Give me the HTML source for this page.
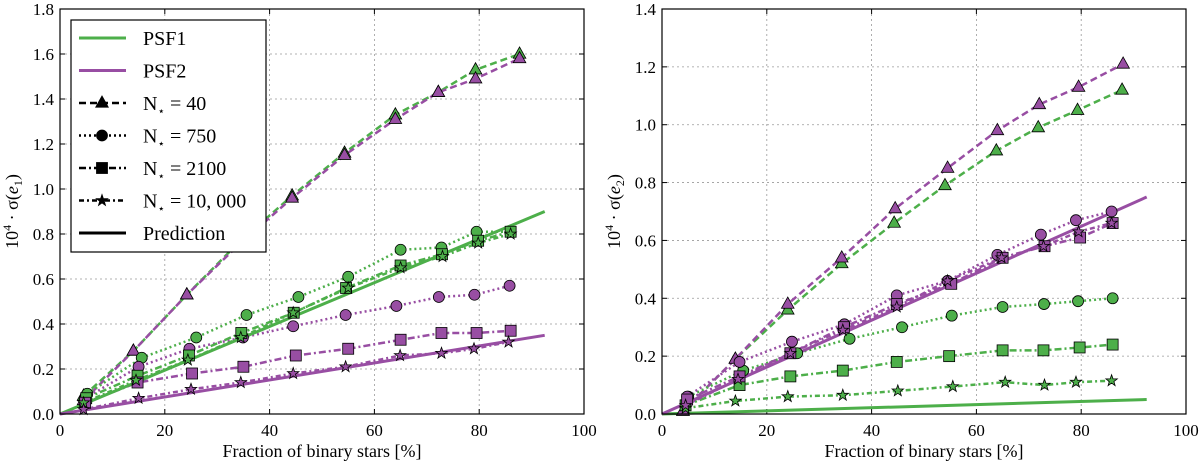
<!DOCTYPE html>
<html><head><meta charset="utf-8"><style>
body{margin:0;background:#fff;width:1200px;height:463px;overflow:hidden}
svg text{font-family:"Liberation Serif",serif;fill:#000}
</style></head><body>
<svg id="chart" width="1200" height="463" viewBox="0 0 1200 463" xmlns="http://www.w3.org/2000/svg"></svg>
<script>
// ---- data ----
const nLabels = ["40","750","2100","10000"];
// Left panel (e1)
const L_x_tri = [4.5,14,24.2,34,44.3,54.3,64,72.2,79.3,87.7];
const L_g_tri = [0.08,0.28,0.53,0.76,0.97,1.16,1.33,1.43,1.53,1.60];
const L_p_tri = [0.06,0.28,0.53,0.75,0.96,1.15,1.31,1.43,1.49,1.58];
const L_xg_circ = [5.2,15.6,26,35.6,45.5,55,65,72.8,79.5,86];
const L_g_circ = [0.09,0.25,0.34,0.44,0.52,0.61,0.73,0.74,0.81,0.81];
const L_xp_circ = [4.8,15,24.7,34.9,44.5,54.5,64.2,72.3,79.1,85.8];
const L_p_circ = [0.07,0.21,0.29,0.34,0.39,0.44,0.48,0.52,0.53,0.57];
const L_xg_sq = [5,14.8,24.6,34.6,44.6,54.6,65,72.9,79.8,86];
const L_g_sq = [0.07,0.17,0.26,0.36,0.45,0.56,0.66,0.71,0.77,0.81];
const L_xp_sq = [4.8,14.8,25.2,35,45,55,65,72.8,79.5,86];
const L_p_sq = [0.05,0.14,0.18,0.21,0.26,0.29,0.33,0.36,0.36,0.37];
const L_xg_star = [4.5,14.5,24.4,34.5,44.5,55,65,73,79.8,86];
const L_g_star = [0.05,0.15,0.24,0.34,0.45,0.56,0.65,0.70,0.76,0.80];
const L_xp_star = [4.5,15,25,34.5,44.5,54.5,64.9,72.8,79,85.6];
const L_p_star = [0.02,0.07,0.11,0.14,0.18,0.21,0.26,0.27,0.29,0.32];
const L_pred_x = [0,92.5];
const L_pred_g = [0,0.90];
const L_pred_p = [0,0.35];
const L_yticks = ["0.0","0.2","0.4","0.6","0.8","1.0","1.2","1.4","1.6","1.8"];
// Right panel (e2)
const R_xg_tri = [4,14,24,34.3,44.3,54,63.8,71.8,79.3,87.8];
const R_g_tri = [0.01,0.19,0.36,0.52,0.66,0.79,0.91,0.99,1.05,1.12];
const R_xp_tri = [4,14,24,34.3,44.5,54.5,64,72,79.5,88];
const R_p_tri = [0.01,0.19,0.38,0.54,0.71,0.85,0.98,1.07,1.13,1.21];
const R_xg_circ = [5,15.5,25.8,35.8,45.8,55.3,65,72.9,79.4,86];
const R_g_circ = [0.06,0.15,0.21,0.26,0.30,0.34,0.37,0.38,0.39,0.40];
const R_xp_circ = [4.8,14.8,24.8,34.8,44.8,54.5,64,72.3,79,85.8];
const R_p_circ = [0.06,0.18,0.25,0.31,0.41,0.46,0.55,0.62,0.67,0.70];
const R_xg_sq = [4.5,14.8,24.5,34.5,44.8,54.8,65,72.8,79.7,86];
const R_g_sq = [0.03,0.10,0.13,0.15,0.18,0.20,0.22,0.22,0.23,0.24];
const R_xp_sq = [4.8,14.8,24.5,34.7,44.8,55.2,65,73,79.8,86];
const R_p_sq = [0.05,0.13,0.21,0.30,0.38,0.45,0.54,0.58,0.61,0.66];
const R_xg_star = [4.5,14,24,34.5,45,55.5,65.5,73,79,85.8];
const R_g_star = [0.02,0.045,0.06,0.065,0.08,0.095,0.11,0.10,0.11,0.115];
const R_xp_star = [4.5,14.5,24.5,34.5,44.8,54.5,64.8,72.8,79.5,85.8];
const R_p_star = [0.03,0.12,0.21,0.29,0.37,0.46,0.54,0.58,0.63,0.66];
const R_pred_x = [0,92.5];
const R_pred_g = [0,0.05];
const R_pred_p = [0,0.75];
const R_yticks = ["0.0","0.2","0.4","0.6","0.8","1.0","1.2","1.4"];
const xticks = ["0","20","40","60","80","100"];

const G="#4daf4a", P="#984ea3";
const NS="http://www.w3.org/2000/svg";
const svg=document.getElementById('chart');
function mk(tag,attrs,parent){const e=document.createElementNS(NS,tag);for(const k in attrs)e.setAttribute(k,attrs[k]);(parent||svg).appendChild(e);return e;}
const dashes={tri:"7,4",circ:"2,3",sq:"7,3,2,3",star:"5,3,2,3",pred:""};

function marker(type,cx,cy,color,parent){
  let e;
  if(type==='tri'){const r=7;e=mk('polygon',{points:`${cx},${cy-r} ${cx-r*0.9},${cy+r*0.6} ${cx+r*0.9},${cy+r*0.6}`},parent);}
  else if(type==='circ'){e=mk('circle',{cx:cx,cy:cy,r:5.5},parent);}
  else if(type==='sq'){e=mk('rect',{x:cx-5.5,y:cy-5.5,width:11,height:11},parent);}
  else {const pts=[];for(let i=0;i<10;i++){const a=-Math.PI/2+i*Math.PI/5;const r=i%2?2.4:6;pts.push((cx+r*Math.cos(a)).toFixed(1)+','+(cy+r*Math.sin(a)).toFixed(1));}e=mk('polygon',{points:pts.join(' ')},parent);}
  e.setAttribute('fill',color);e.setAttribute('stroke','#000');e.setAttribute('stroke-width','0.8');
  return e;
}

function panel(id,x0,x1,y0,y1,ymax,yticks,series,ylabSub){
  const g=mk('g',{});
  
  
  const sx=v=>x0+(v/100)*(x1-x0);
  const sy=v=>y1-(v/ymax)*(y1-y0);
  // grid
  xticks.forEach((t,i)=>{const v=+t;const X=sx(v);
    if(v>0&&v<100){const l=mk('line',{x1:X,x2:X,y1:y0,y2:y1,stroke:'#999','stroke-width':0.8,'stroke-dasharray':'2,3'},g);}
    const tx=mk('text',{x:X,y:y1+22,'font-size':17,'text-anchor':'middle'},g);tx.textContent=t;
    
    mk('line',{x1:X,x2:X,y1:y1,y2:y1-5,stroke:'#000'},g);mk('line',{x1:X,x2:X,y1:y0,y2:y0+5,stroke:'#000'},g);
  });
  yticks.forEach(t=>{const v=+t;const Y=sy(v);
    if(v>0&&v<ymax-1e-9){const l=mk('line',{x1:x0,x2:x1,y1:Y,y2:Y,stroke:'#999','stroke-width':0.8,'stroke-dasharray':'2,3'},g);}
    const tx=mk('text',{x:x0-6,y:Y+6,'font-size':17,'text-anchor':'end'},g);tx.textContent=t;
    
    mk('line',{x1:x0,x2:x0+5,y1:Y,y2:Y,stroke:'#000'},g);mk('line',{x1:x1,x2:x1-5,y1:Y,y2:Y,stroke:'#000'},g);
  });
  // series
  series.forEach(s=>{
    const pts=s.x.map((xv,i)=>sx(xv).toFixed(1)+','+sy(s.y[i]).toFixed(1)).join(' ');
    const pl=mk('polyline',{points:pts,fill:'none',stroke:s.c,'stroke-width':s.type==='pred'?3:2.5,'stroke-dasharray':dashes[s.type]},g);
    
    
  });
  series.forEach(s=>{ if(s.type==='pred')return;
    s.x.forEach((xv,i)=>{const m=marker(s.type,sx(xv),sy(s.y[i]),s.c,g);
      
      });
  });
  const fr=mk('rect',{x:x0,y:y0,width:x1-x0,height:y1-y0,fill:'none',stroke:'#000','stroke-width':1.2},g);
  
  const xl=mk('text',{x:(x0+x1)/2,y:457,'font-size':18,'text-anchor':'middle'},g);xl.textContent='Fraction of binary stars [%]';
  
  const cy=(y0+y1)/2;
  const yl=mk('text',{x:0,y:0,'font-size':18,'text-anchor':'middle',transform:`translate(${x0-42},${cy}) rotate(-90)`},g);
  yl.innerHTML='10<tspan dy="-7" font-size="12">4</tspan><tspan dy="7"> · σ(</tspan><tspan font-style="italic">e</tspan><tspan dy="4" font-size="12">'+ylabSub+'</tspan><tspan dy="-4">)</tspan>';
  
  return g;
}
function S(name,type,c,x,y){return {name,type,c,x,y};}
panel('left-panel',60,584,9,414,1.8,L_yticks,[
  S('psf1-n40','tri',G,L_x_tri,L_g_tri),S('psf2-n40','tri',P,L_x_tri,L_p_tri),
  S('psf1-n750','circ',G,L_xg_circ,L_g_circ),S('psf2-n750','circ',P,L_xp_circ,L_p_circ),
  S('psf1-n2100','sq',G,L_xg_sq,L_g_sq),S('psf2-n2100','sq',P,L_xp_sq,L_p_sq),
  S('psf1-n10000','star',G,L_xg_star,L_g_star),S('psf2-n10000','star',P,L_xp_star,L_p_star),
  S('psf1-prediction','pred',G,L_pred_x,L_pred_g),S('psf2-prediction','pred',P,L_pred_x,L_pred_p)
],'1');
panel('right-panel',662,1186,9,414,1.4,R_yticks,[
  S('psf1-n40','tri',G,R_xg_tri,R_g_tri),S('psf2-n40','tri',P,R_xp_tri,R_p_tri),
  S('psf1-n750','circ',G,R_xg_circ,R_g_circ),S('psf2-n750','circ',P,R_xp_circ,R_p_circ),
  S('psf1-n2100','sq',G,R_xg_sq,R_g_sq),S('psf2-n2100','sq',P,R_xp_sq,R_p_sq),
  S('psf1-n10000','star',G,R_xg_star,R_g_star),S('psf2-n10000','star',P,R_xp_star,R_p_star),
  S('psf1-prediction','pred',G,R_pred_x,R_pred_g),S('psf2-prediction','pred',P,R_pred_x,R_pred_p)
],'2');

// legend
const lg=mk('g',{});


mk('rect',{x:71,y:20,width:195,height:232,fill:'#fff',stroke:'#000','stroke-width':1.2},lg);
const entries=[['PSF1','pred',G,false],['PSF2','pred',P,false],['N⋆ = 40','tri','#000',true],['N⋆ = 750','circ','#000',true],['N⋆ = 2100','sq','#000',true],['N⋆ = 10, 000','star','#000',true],['Prediction','pred','#000',false]];
entries.forEach((e,i)=>{
  const y=38+i*32.5;
  const eg=mk('g',{},lg);
  
  
  mk('line',{x1:79,x2:126,y1:y,y2:y,stroke:e[2],'stroke-width':e[1]==='pred'?3:2.5,'stroke-dasharray':dashes[e[1]]},eg);
  if(e[3])marker(e[1],102,y,'#000',eg);
  const t=mk('text',{x:143,y:y+7,'font-size':20},eg);
  if(e[0].startsWith('N⋆')){t.innerHTML='N<tspan dy="5" font-size="12">⋆</tspan><tspan dy="-5">'+e[0].slice(2)+'</tspan>';}
  else t.textContent=e[0];
});
</script>
</body></html>
